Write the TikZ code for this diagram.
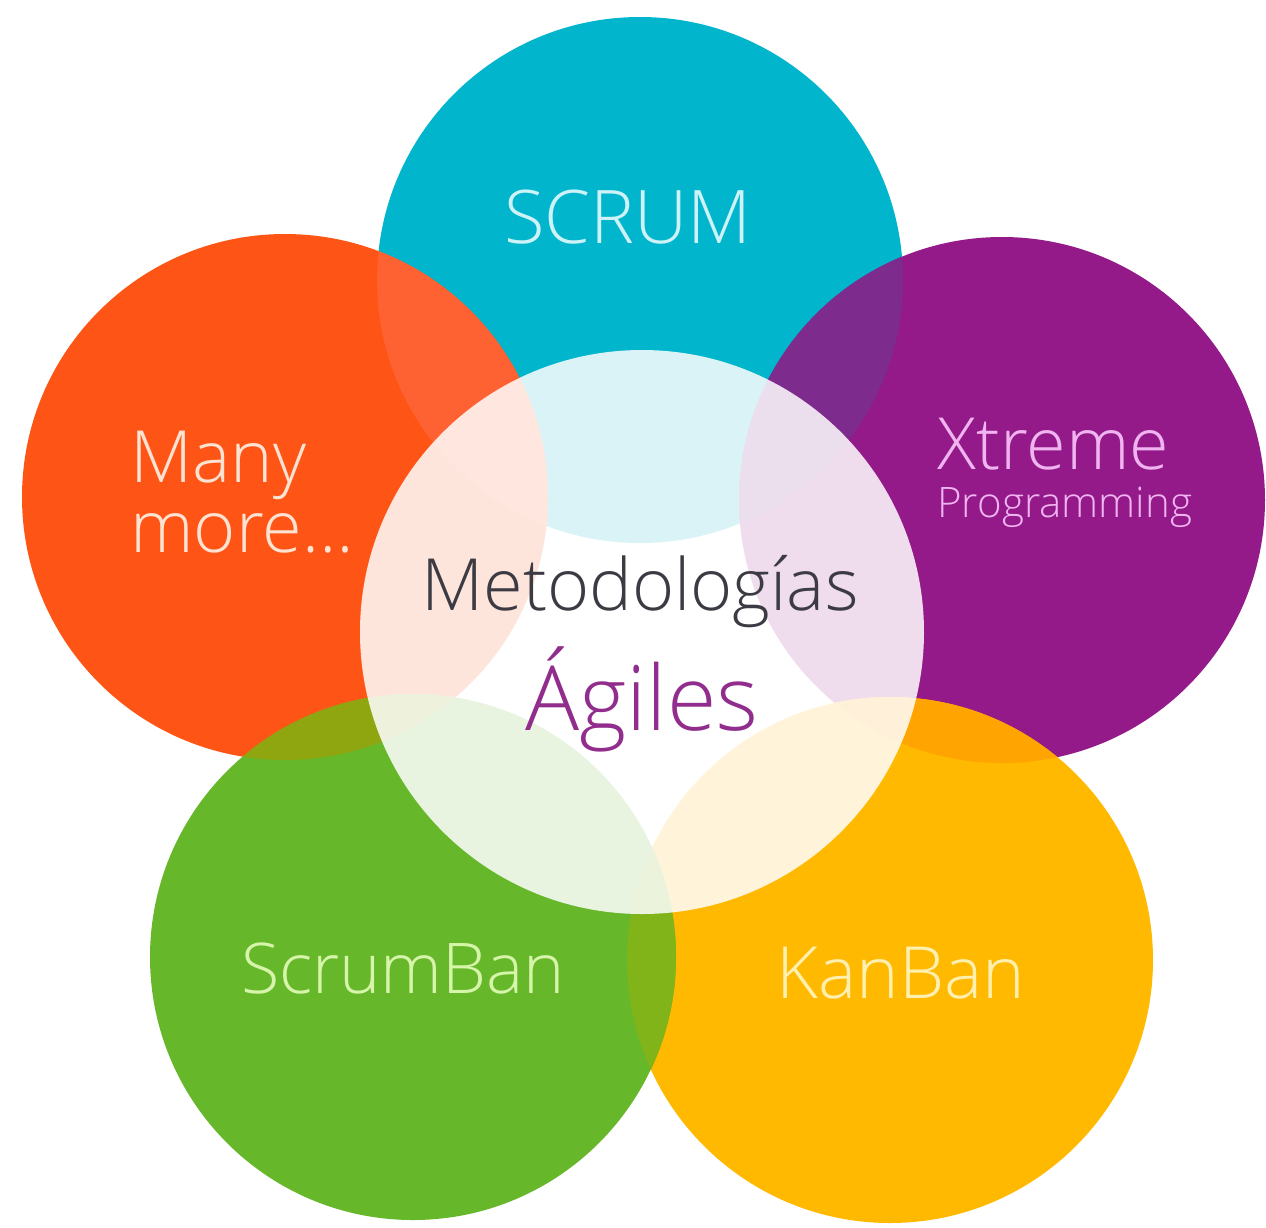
\documentclass[tikz,border=0pt]{standalone}
\usepackage{fontspec}
\setmainfont{Open Sans Light}
\definecolor{cScrum}{RGB}{0,181,204}
\definecolor{cMany}{RGB}{254,85,22}
\definecolor{cXp}{RGB}{148,26,138}
\definecolor{cGreen}{RGB}{102,183,42}
\definecolor{cYellow}{RGB}{255,185,0}
\definecolor{lSO}{RGB}{255,98,50}
\definecolor{lSX}{RGB}{125,43,140}
\definecolor{lOG}{RGB}{143,166,16}
\definecolor{lGY}{RGB}{128,180,24}
\definecolor{lXY}{RGB}{255,164,0}
\definecolor{tScrum}{RGB}{205,242,248}
\definecolor{tMany}{RGB}{255,226,210}
\definecolor{tXp}{RGB}{240,180,240}
\definecolor{tGreen}{RGB}{215,245,170}
\definecolor{tYellow}{RGB}{255,240,175}
\definecolor{tMeto}{RGB}{60,58,66}
\definecolor{tAgil}{RGB}{145,45,140}
\begin{document}
\begin{tikzpicture}[x={(0.5pt,0)},y={(0,-0.5pt)},
  lbl/.style={inner sep=0pt},
  bigtxt/.style={font=\fontsize{36}{40}\selectfont}]
\useasboundingbox (0,0) rectangle (1266,1228);
\fill[white] (0,0) rectangle (1266,1228);
\def\R{131.5pt}
\coordinate (cS) at (640,280);
\coordinate (cO) at (285,497);
\coordinate (cX) at (1002,500);
\coordinate (cG) at (413,957);
\coordinate (cY) at (890,960);
\coordinate (cC) at (642,632);
% coloured circles
\fill[cScrum] (cS) circle (\R);
\fill[cMany] (cO) circle (\R);
\fill[cXp] (cX) circle (\R);
\fill[cYellow] (cY) circle (\R);
\fill[cGreen] (cG) circle (\R);
% overlap lenses
\begin{scope}\clip (cS) circle (\R); \fill[lSO] (cO) circle (\R);\end{scope}
\begin{scope}\clip (cS) circle (\R); \fill[lSX] (cX) circle (\R);\end{scope}
\begin{scope}\clip (cO) circle (\R); \fill[lOG] (cG) circle (\R);\end{scope}
\begin{scope}\clip (cG) circle (\R); \fill[lGY] (cY) circle (\R);\end{scope}
\begin{scope}\clip (cX) circle (\R); \fill[lXY] (cY) circle (\R);\end{scope}
% central translucent circle
\fill[white, fill opacity=0.85] (cC) circle (141pt);
% labels
\node[lbl, anchor=base, text=tScrum, font=\fontsize{37}{40}\selectfont] (tscrum) at (628,243) {SCRUM};
\node[lbl, anchor=base west, text=tMany, bigtxt] (tmany) at (130,482) {Many};
\node[lbl, anchor=base west, text=tMany, bigtxt] (tmore) at (130,552) {more…};
\node[lbl, anchor=base west, text=tXp, bigtxt] (txtreme) at (937,469) {Xtreme};
\node[lbl, anchor=base west, text=tXp, font=\fontsize{21}{23}\selectfont] (tprog) at (937,517) {Programming};
\node[lbl, anchor=base, text=tMeto, font=\fontsize{36}{40}\selectfont] (tmeto) at (640,610) {Metodologías};
\node[lbl, anchor=base, text=tAgil, font=\fontsize{45}{50}\selectfont] (tagil) at (642,730) {Ágiles};
\node[lbl, anchor=base, text=tGreen, font=\fontsize{35}{40}\selectfont] (tscrumban) at (403,993) {ScrumBan};
\node[lbl, anchor=base, text=tYellow, bigtxt] (tkanban) at (901,998) {KanBan};
\end{tikzpicture}
\end{document}
